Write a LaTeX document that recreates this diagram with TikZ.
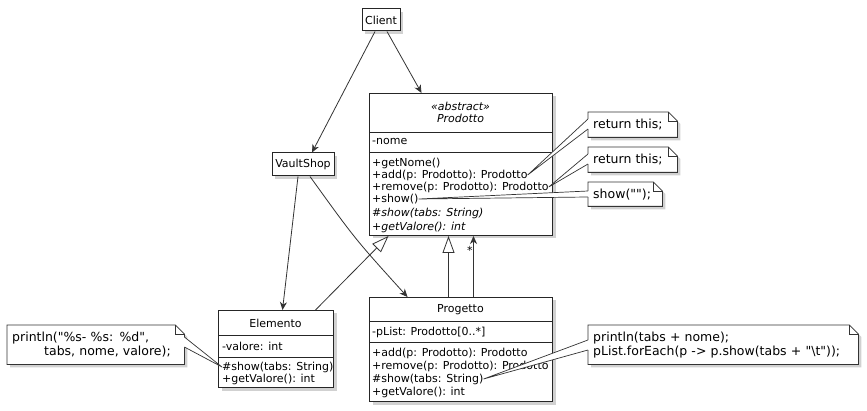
\documentclass[tikz,border=0pt]{standalone}
\usepackage{fontspec}
\setmainfont{DejaVu Sans}[Ligatures=TeXOff]
\usetikzlibrary{arrows.meta,shadows,calc}
\pgfdeclarelayer{background}
\pgfsetlayers{background,main}
\newcommand{\clsfont}{\fontsize{11}{12}\selectfont}
\newcommand{\notefont}{\fontsize{12.5}{14}\selectfont}
% dog-eared outline round a note node
\newcommand{\notebox}[1]{
  \draw[noteline] (#1.south west) -- (#1.north west) -- ([xshift=-9pt]#1.north east)
    -- ([yshift=-9pt]#1.north east) -- (#1.south east) -- cycle;
  \draw[line width=.8pt,draw=black!80] ([xshift=-9pt]#1.north east) |- ([yshift=-9pt]#1.north east);
}
% wedge from a note edge to a member
\newcommand{\notelink}[3]{
  \fill[white] (#1) -- (#3) -- (#2) -- cycle;
  \draw[white,line width=1.6pt] (#1) -- (#2);
  \draw[linkline] (#1) -- (#3) -- (#2);
}

\begin{document}
\begin{tikzpicture}[x=1pt,y=-1pt,font=\clsfont,
  clsbox/.style={draw=black!85,line width=1pt,fill=white,inner sep=0pt,
    drop shadow={shadow xshift=3pt,shadow yshift=-3pt,fill=black,opacity=.18}},
  sep/.style={draw=black!85,line width=.8pt},
  member/.style={anchor=west,inner sep=0pt},
  assoc/.style={draw=black!80,line width=.8pt,-{Stealth[length=8pt,width=7pt,inset=2.5pt]}},
  inherit/.style={draw=black!80,line width=.8pt,-{Triangle[length=17pt,width=12pt,fill=white]}},
  notetext/.style={anchor=north west,inner xsep=5pt,inner ysep=0pt,align=left,font=\notefont},
  noteline/.style={draw=black!80,line width=.8pt,fill=white,
    drop shadow={shadow xshift=3pt,shadow yshift=-3pt,fill=black,opacity=.18}},
  linkline/.style={draw=black!80,line width=.7pt}]

\begin{pgfonlayer}{background}
\fill[white] (0,0) rectangle (867,411);
\end{pgfonlayer}
\useasboundingbox (0,0) rectangle (867,411);

% simple classes
\node[clsbox,minimum width=38pt,minimum height=22pt] (client) at (381,20) {Client};
\node[clsbox,minimum width=62pt,minimum height=23pt] (vault) at (303,164.5) {VaultShop};

% Prodotto
\node[clsbox,anchor=north west,minimum width=183pt,minimum height=142pt] (prodotto) at (369,93) {};
\draw[sep] (prodotto.west |- 0,132) -- (prodotto.east |- 0,132);
\draw[sep] (prodotto.west |- 0,152) -- (prodotto.east |- 0,152);
\node[align=center,font=\clsfont\itshape,inner sep=0pt] (prodottoname) at (460.5,112) {«abstract»\\Prodotto};
\node[member] (pnome) at (372,142) {-nome};
\node[member] (pgetnome) at (372,163) {+getNome()};
\node[member] (padd) at (372,175) {+add(p: Prodotto): Prodotto};
\node[member] (premove) at (372,187) {+remove(p: Prodotto): Prodotto};
\node[member] (pshow) at (372,199) {+show()};
\node[member,font=\clsfont\itshape] (pshowtabs) at (372,213) {\#show(tabs: String)};
\node[member,font=\clsfont\itshape] (pgetvalore) at (372,227) {+getValore(): int};

% Elemento
\node[clsbox,anchor=north west,minimum width=115pt,minimum height=77pt] (elemento) at (218,310) {};
\draw[sep] (elemento.west |- 0,335) -- (elemento.east |- 0,335);
\draw[sep] (elemento.west |- 0,357) -- (elemento.east |- 0,357);
\node[inner sep=0pt] (elementoname) at (275.5,323) {Elemento};
\node[member] (evalore) at (222,346) {-valore: int};
\node[member] (eshow) at (222,367) {\#show(tabs: String)};
\node[member] (egetvalore) at (222,379) {+getValore(): int};

% Progetto
\node[clsbox,anchor=north west,minimum width=183pt,minimum height=104pt] (progetto) at (369,297) {};
\draw[sep] (progetto.west |- 0,321) -- (progetto.east |- 0,321);
\draw[sep] (progetto.west |- 0,342) -- (progetto.east |- 0,342);
\node[inner sep=0pt] (progettoname) at (460.5,310) {Progetto};
\node[member] (gplist) at (372,332) {-pList: Prodotto[0..*]};
\node[member] (gadd) at (372,353) {+add(p: Prodotto): Prodotto};
\node[member] (gremove) at (372,366) {+remove(p: Prodotto): Prodotto};
\node[member] (gshow) at (372,379) {\#show(tabs: String)};
\node[member] (ggetvalore) at (372,392) {+getValore(): int};

% relations
\draw[assoc] ([xshift=-6pt]client.south) -- ([xshift=9pt]vault.north);
\draw[assoc] ([xshift=6pt]client.south) -- ([xshift=-39.5pt]prodotto.north);
\draw[assoc] ([xshift=-5pt]vault.south) -- ([xshift=6.5pt]elemento.north);
\draw[assoc] ([xshift=7pt]vault.south) .. controls (355,239) .. ([xshift=-53.5pt]progetto.north);
\draw[inherit] ([xshift=39.5pt]elemento.north) -- ([xshift=-72.5pt]prodotto.south);
\draw[inherit] ([xshift=-12.5pt]progetto.north) -- ([xshift=-12.5pt]prodotto.south);
\draw[assoc] ([xshift=12.5pt]progetto.north) -- node[pos=.77,left,inner sep=.5pt] (mult) {*} ([xshift=12.5pt]prodotto.south);

% notes
\node[notetext,text width=79pt,minimum height=25pt] (ret1) at (588,112) {return this;};
\node[notetext,text width=79pt,minimum height=25pt] (ret2) at (588,147) {return this;};
\node[notetext,text width=64pt,minimum height=24pt] (shownote) at (588,182) {show("");};
\node[notetext,text width=167pt,minimum height=39pt] (elnote) at (7,325)
  {println("\%s- \%s: \%d",\\\hspace*{32pt}tabs, nome, valore);};
\node[notetext,text width=260pt,minimum height=39pt] (prnote) at (588,325)
  {println(tabs + nome);\\pList.forEach(p -> p.show(tabs + "\textbackslash t"));};

\begin{pgfonlayer}{background}
\notebox{ret1}
\notebox{ret2}
\notebox{shownote}
\notebox{elnote}
\notebox{prnote}
\end{pgfonlayer}

\notelink{[yshift=-7pt]ret1.north west}{[yshift=-17pt]ret1.north west}{padd.east}
\notelink{[yshift=-7pt]ret2.north west}{[yshift=-17pt]ret2.north west}{premove.east}
\notelink{[yshift=-9pt]shownote.north west}{[yshift=-15pt]shownote.north west}{pshow.east}
\notelink{[yshift=-12pt]elnote.north east}{[yshift=-22pt]elnote.north east}{eshow.west}
\notelink{[yshift=-15pt]prnote.north west}{[yshift=-25pt]prnote.north west}{gshow.east}
\end{tikzpicture}
\end{document}
